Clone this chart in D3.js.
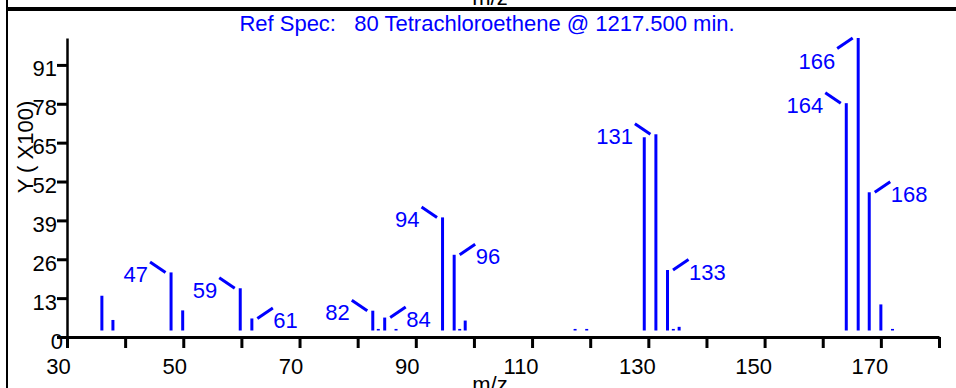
<!DOCTYPE html>
<html><head><meta charset="utf-8">
<script src="https://cdn.jsdelivr.net/npm/d3@7"></script>
<style>
html,body{margin:0;padding:0;background:#fff;overflow:hidden}
svg text{font-family:"Liberation Sans",Arial,Helvetica,sans-serif}
</style>
</head><body>
<svg id="chart" width="956" height="388"></svg>
<script>
// ---------------- data ----------------
const titleText = "Ref Spec:   80 Tetrachloroethene @ 1217.500 min.";
const xAxisTitle = "m/z";
const yAxisTitle = "Y ( X100)";
const xTickValues = [30, 40, 50, 60, 70, 80, 90, 100, 110, 120, 130, 140, 150, 160, 170, 180];
const xTickLabels = ["30", "", "50", "", "70", "", "90", "", "110", "", "130", "", "150", "", "170", ""];
const yTickValues = [0, 13, 26, 39, 52, 65, 78, 91];
const yTickLabels = ["0", "13", "26", "39", "52", "65", "78", "91"];
// peak positions (m/z as drawn) and abundances (x100)
const peakMz = [36.0, 37.9, 47.9, 49.9, 59.8, 61.8, 82.6, 83.55, 84.65, 86.6, 94.6, 96.6, 97.55, 98.5,
                117.4, 119.4, 129.3, 131.3, 133.3, 134.3, 135.3, 164.05, 166.1, 168.0, 170.0, 172.0];
const peakAbundance = [13.8, 5.7, 21.6, 8.9, 16.3, 6.2, 8.8, 2.7, 6.5, 2.7, 40.0, 27.5, 2.7, 5.5,
                2.7, 2.7, 66.8, 67.8, 22.4, 2.7, 3.4, 78.2, 100, 48.4, 10.9, 2.7];
const peakLabels = ["", "", "47", "", "59", "61", "82", "", "84", "", "94", "96", "", "",
                "", "", "", "131", "133", "", "", "164", "166", "168", "", ""];

// ---------------- drawing ----------------
const svg = d3.select("#chart");
const BLUE = "#0000ff";
const x = d3.scaleLinear().domain([30, 180]).range([67, 939]);
const y = d3.scaleLinear().domain([0, 100]).range([337, 38]);
const barGap = 6.5;

// frame of the panel
svg.append("line").attr("x1", 7).attr("x2", 7).attr("y1", 0).attr("y2", 388)
  .attr("stroke", "#000").attr("stroke-width", 2);
svg.append("line").attr("x1", 6).attr("x2", 956).attr("y1", 9).attr("y2", 9)
  .attr("stroke", "#000").attr("stroke-width", 4);
// clipped axis title of the panel above
svg.append("text").attr("x", 490).attr("y", 5).attr("text-anchor", "middle")
  .attr("font-size", 22).attr("fill", "#000").text(xAxisTitle);

// title
svg.append("text").attr("x", 487).attr("y", 31).attr("text-anchor", "middle")
  .attr("font-size", 22).attr("fill", BLUE).style("white-space", "pre").text(titleText);

// x axis
const xAxis = d3.axisBottom(x).tickValues(xTickValues).tickSize(11).tickSizeOuter(0).tickPadding(10)
  .tickFormat((d, i) => xTickLabels[i]);
const gx = svg.append("g").attr("transform", `translate(0,${y(0)})`).call(xAxis);
gx.select(".domain").attr("stroke", "#000").attr("stroke-width", 3);
gx.selectAll(".tick line").attr("stroke", "#000").attr("stroke-width", 3);
gx.selectAll(".tick text").attr("font-size", 22).attr("font-family", null).attr("fill", "#000")
  .attr("dx", (d, i) => -(4 + 2.5 * xTickLabels[i].length));

// y axis
const yAxis = d3.axisLeft(y).tickValues(yTickValues).tickSize(10).tickSizeOuter(0).tickPadding(0)
  .tickFormat((d, i) => yTickLabels[i]);
const gy = svg.append("g").attr("transform", `translate(${x(30)},0)`).call(yAxis);
gy.select(".domain").attr("stroke", "#000").attr("stroke-width", 2.5);
gy.selectAll(".tick line").attr("stroke", "#000").attr("stroke-width", 3);
gy.selectAll(".tick text").attr("font-size", 22).attr("font-family", null).attr("fill", "#000")
  .attr("dy", "0.5em").attr("x", d => d === 0 ? -4 : -10);

// x axis title (clipped at the bottom)
svg.append("text").attr("x", 490).attr("y", 392).attr("text-anchor", "middle")
  .attr("font-size", 22).attr("fill", "#000").text(xAxisTitle);

// y axis title
svg.append("text").attr("transform", "translate(33,147) rotate(-90)").attr("text-anchor", "middle")
  .attr("font-size", 22).attr("fill", "#000").style("white-space", "pre").text(yAxisTitle);

// peaks
const peaks = peakMz.map((m, i) => ({ mz: m, v: peakAbundance[i], label: peakLabels[i] }));
svg.append("g").selectAll("line").data(peaks).join("line")
  .attr("x1", d => x(d.mz)).attr("x2", d => x(d.mz))
  .attr("y1", y(0) - barGap).attr("y2", d => y(d.v))
  .attr("stroke", BLUE).attr("stroke-width", 3);

// label placement: side of the label and whether the leader falls (-1) or rises (+1) outward
const placement = {
  "47": [-1, -1], "59": [-1, -1], "61": [1, -1], "82": [-1, -1], "84": [1, -1],
  "94": [-1, -1], "96": [1, -1], "131": [-1, -1], "133": [1, -1],
  "164": [-1, -1], "166": [-1, 1], "168": [1, -1]
};
const labelled = peaks.filter(d => d.label);
const lg = svg.append("g");
labelled.forEach(d => {
  const [side, vert] = placement[d.label];
  const bx = x(d.mz), top = y(d.v);
  const ox = bx + side * 21, oy = top + vert * 10.5;
  lg.append("line").attr("x1", bx + side * 5.5).attr("y1", top).attr("x2", ox).attr("y2", oy)
    .attr("stroke", BLUE).attr("stroke-width", 3);
  lg.append("text").attr("x", ox + (side < 0 ? -2 : 0.5)).attr("y", oy + 20)
    .attr("text-anchor", side < 0 ? "end" : "start")
    .attr("font-size", 22).attr("fill", BLUE).text(d.label);
});
</script>
</body></html>
